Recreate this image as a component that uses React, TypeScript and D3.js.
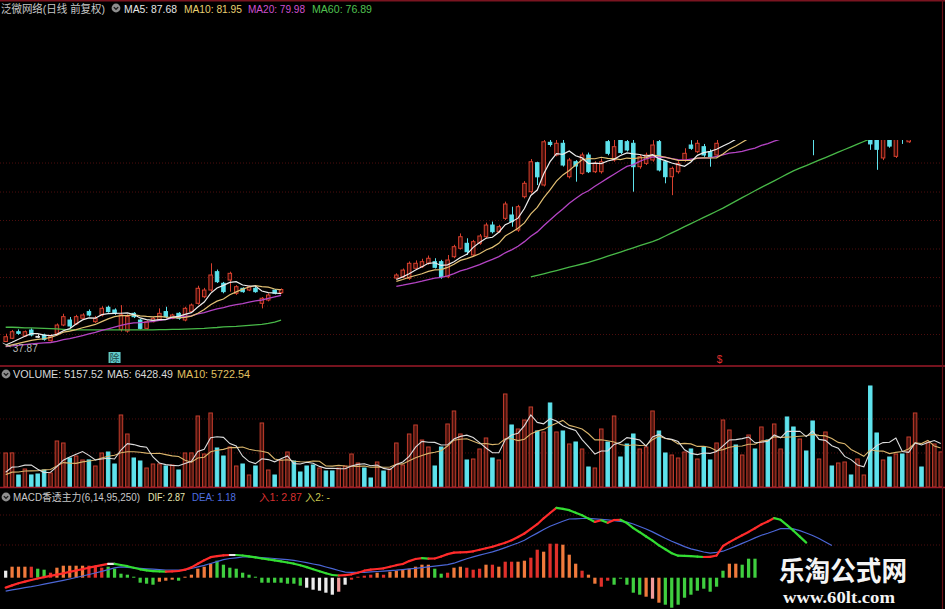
import React from 'react';
import * as d3 from 'd3';

// daily bars, 147 trading days shown on screen
const dayOpen = [
  37.95, 38.55, 39.77, 38.97, 40.08, 38.9, 39.16, 38.1, 39.47, 41.01,
  41.94, 41.2, 42.26, 43.5, 41.63, 42.87, 44.3, 43.8, 40.2, 39.9,
  43.18, 41.94, 40.39, 41.63, 41.94, 43.5, 42.26, 43.18, 41.94, 43.5,
  45.04, 46.26, 47.5, 50.9, 48.75, 49.36, 46.89, 47.82, 47.5, 47.82,
  45.04, 45.65, 47.5, 47.0, 47.2, 47.9, 47.6, 47.3, 47.0, 46.7,
  47.7, 47.4, 47.1, 47.8, 48.3, 49.0, 49.6, 49.1, 48.8, 49.6,
  49.0, 49.73, 49.9, 49.67, 51.53, 51.83, 52.46, 52.76, 52.76, 49.97,
  53.68, 55.24, 56.17, 54.0, 56.17, 57.39, 59.56, 58.32, 60.8, 61.42,
  58.63, 64.81, 65.74, 71.12, 66.98, 74.9, 72.55, 74.72, 68.52, 71.3,
  69.15, 72.55, 69.45, 69.45, 75.02, 71.62, 75.5, 75.02, 74.72, 70.38,
  71.0, 71.62, 75.02, 71.3, 68.52, 69.45, 71.62, 74.4, 73.16, 74.09,
  73.16, 72.55, 75.6, 76.6, 77.8, 76.0, 78.0, 79.8, 78.5, 80.8,
  79.4, 81.2, 82.0, 79.8, 78.4, 79.9, 78.3, 78.0, 79.0, 80.0,
  79.2, 79.8, 80.2, 79.5, 80.0, 80.2, 77.0, 72.0, 77.6, 72.3,
  77.7, 75.0, 79.0, 84.6, 83.0, 87.6, 91.0,
];
const dayHigh = [
  39.4, 40.1, 40.2, 40.0, 40.4, 39.3, 39.4, 39.3, 41.3, 43.1,
  42.5, 42.9, 43.2, 43.9, 42.7, 44.5, 44.6, 44.1, 44.7, 43.0,
  43.4, 42.1, 41.9, 42.5, 44.1, 44.4, 43.1, 43.4, 44.4, 45.0,
  48.3, 47.9, 52.46, 51.3, 49.0, 50.9, 48.4, 48.0, 48.3, 48.1,
  46.2, 46.9, 47.7, 47.8, 48.2, 48.2, 47.9, 47.6, 47.3, 47.9,
  48.0, 47.7, 48.1, 48.7, 49.5, 49.8, 49.9, 49.4, 49.8, 49.9,
  49.9, 50.6, 51.5, 52.8, 53.0, 53.3, 53.9, 53.4, 53.1, 54.0,
  55.9, 58.0, 57.1, 56.8, 57.9, 60.0, 60.2, 59.6, 63.9, 62.96,
  63.3, 67.7, 71.8, 71.3, 75.8, 77.0, 76.0, 76.0, 72.0, 71.6,
  73.0, 73.0, 71.4, 71.9, 76.5, 75.5, 77.0, 76.5, 76.0, 72.6,
  73.0, 75.3, 77.0, 71.6, 70.4, 71.4, 73.8, 75.3, 76.0, 74.6,
  73.6, 75.5, 77.3, 78.2, 78.3, 78.6, 80.2, 80.3, 81.2, 81.2,
  82.0, 82.5, 82.6, 80.4, 80.3, 80.2, 79.6, 79.5, 80.6, 80.4,
  80.3, 80.9, 80.5, 80.5, 80.8, 80.6, 78.0, 78.5, 78.2, 78.5,
  78.4, 79.0, 84.5, 85.5, 88.0, 92.3, 96.5,
];
const dayLow = [
  37.87, 38.4, 39.2, 38.8, 38.9, 38.6, 38.1, 37.95, 39.3, 40.8,
  40.5, 41.0, 42.0, 42.6, 41.4, 42.6, 43.3, 42.9, 39.8, 39.6,
  42.3, 40.2, 40.2, 41.5, 41.8, 42.3, 42.1, 42.0, 41.7, 43.3,
  44.8, 46.0, 47.2, 48.8, 46.9, 47.2, 46.6, 47.0, 47.3, 47.0,
  44.1, 45.4, 46.7, 46.8, 46.9, 47.2, 46.9, 46.6, 46.4, 46.4,
  47.0, 46.8, 46.8, 47.5, 48.0, 48.7, 48.7, 48.5, 48.5, 48.8,
  48.7, 49.5, 49.7, 49.4, 51.3, 51.6, 52.2, 51.5, 49.6, 49.7,
  53.4, 55.0, 54.0, 53.7, 55.9, 57.1, 58.0, 58.1, 60.5, 59.25,
  58.3, 64.5, 65.4, 66.98, 66.7, 74.1, 72.3, 70.4, 68.2, 67.6,
  68.9, 69.2, 69.2, 69.1, 72.5, 71.3, 72.7, 73.2, 65.74, 70.0,
  70.7, 71.3, 69.5, 67.3, 65.1, 69.1, 71.3, 73.5, 72.9, 72.2,
  70.38, 72.3, 75.5, 76.2, 75.6, 75.8, 77.6, 78.0, 78.2, 78.9,
  79.0, 80.6, 79.2, 78.0, 77.9, 78.2, 72.5, 77.6, 78.6, 79.0,
  78.9, 79.4, 79.3, 79.2, 79.7, 73.5, 69.8, 71.6, 73.9, 72.0,
  74.6, 74.8, 78.8, 82.5, 82.8, 87.0, 90.5,
];
const dayClose = [
  38.84, 39.77, 39.47, 39.77, 39.16, 38.9, 38.36, 38.97, 41.01, 42.56,
  40.83, 42.56, 42.87, 42.87, 42.26, 44.11, 43.5, 43.18, 42.9, 42.6,
  42.56, 40.39, 41.63, 42.26, 43.18, 42.56, 42.87, 42.26, 44.11, 44.72,
  47.82, 47.5, 50.29, 49.05, 47.2, 50.6, 48.12, 47.2, 48.12, 47.2,
  45.97, 46.58, 46.89, 47.6, 47.9, 47.5, 47.2, 46.9, 46.7, 47.6,
  47.3, 47.1, 47.8, 48.4, 49.2, 49.5, 49.0, 48.8, 49.5, 49.1,
  49.6, 50.29, 51.2, 52.46, 52.46, 52.76, 53.39, 51.72, 49.97, 53.07,
  55.54, 57.39, 54.61, 56.47, 57.52, 59.56, 58.32, 59.25, 63.46, 60.18,
  62.96, 67.3, 71.3, 68.5, 75.0, 74.5, 74.72, 70.69, 71.62, 70.5,
  72.55, 69.45, 71.0, 71.3, 72.86, 74.09, 73.0, 73.48, 70.38, 72.24,
  72.55, 74.4, 69.77, 68.52, 70.07, 71.0, 72.86, 73.79, 74.72, 72.55,
  72.24, 74.72, 76.8, 77.6, 75.9, 78.1, 79.6, 78.4, 80.6, 79.3,
  81.4, 81.9, 79.6, 78.5, 79.8, 78.6, 78.2, 79.1, 80.0, 79.3,
  79.9, 80.3, 79.6, 80.1, 80.4, 74.6, 73.6, 77.9, 74.2, 78.0,
  77.4, 78.5, 84.0, 83.2, 87.5, 91.5, 92.2,
];
// closes of the 19 days before the first bar on screen (moving-average warm-up)
const closeBefore = [37.6, 37.2, 36.8, 37.1, 36.6, 36.9, 37.3, 36.8, 36.4, 36.9, 37.2, 36.7, 37.0, 36.5, 36.9, 37.3, 36.6, 37.0, 36.8];

// days whose candles / averages are blanked out in the screenshot
const HIDDEN_DAYS = [44, 60];

// MA60 as printed (left part, then from day 82 onwards)
const ma60Left = [
  40.6, 40.6, 40.55, 40.5, 40.5, 40.45, 40.4, 40.35, 40.3, 40.2,
  40.1, 40.1, 40.1, 40.1, 40.1, 40.1, 40.1, 40.1, 40.1, 40.1,
  40.1, 40.1, 40.1, 40.1, 40.15, 40.15, 40.2, 40.2, 40.25, 40.3,
  40.35, 40.4, 40.5, 40.55, 40.65, 40.7, 40.75, 40.85, 40.95, 41.05,
  41.15, 41.3, 41.55, 41.9,
];
const MA60_RIGHT_FROM = 82;
const ma60Right = [
  49.92, 50.21, 50.51, 50.83, 51.12, 51.42, 51.73, 52.03, 52.33, 52.62,
  52.99, 53.38, 53.77, 54.16, 54.55, 54.94, 55.33, 55.72, 56.11, 56.5,
  56.95, 57.52, 58.1, 58.67, 59.25, 59.82, 60.4, 60.97, 61.55, 62.12,
  62.7, 63.35, 63.98, 64.63, 65.26, 65.91, 66.54, 67.15, 67.76, 68.37,
  68.99, 69.6, 70.1, 70.58, 71.08, 71.58, 72.07, 72.57, 73.07, 73.57,
  74.05, 74.55, 75.05, 75.55, 75.8, 76.0, 76.15, 76.3, 76.42, 76.52,
  76.6, 76.68, 76.75, 76.82, 76.89,
];

const volume = [
  4998, 5012, 1764, 2646, 1770, 1911, 2499, 2058, 6762, 6468,
  4263, 4557, 3969, 3980, 3087, 4998, 5145, 3381, 10584, 7791,
  4263, 3822, 2793, 3381, 3390, 3087, 3234, 2499, 4998, 5010,
  10437, 4851, 10878, 5733, 4557, 5880, 3087, 3381, 1764, 3087,
  9408, 2499, 1764, 3969, 5145, 3822, 2205, 3087, 3234, 2793,
  2352, 2360, 2793, 3087, 4851, 3528, 2793, 1323, 3675, 2352,
  2646, 6468, 3234, 7791, 9114, 6909, 5880, 3087, 5880, 9261,
  11172, 7791, 3969, 4116, 5586, 7203, 4263, 3969, 13671, 9114,
  8526, 9849, 11760, 8232, 8085, 12348, 8085, 8232, 6321, 6615,
  5586, 2940, 2793, 8526, 6615, 10437, 4410, 6321, 7791, 5586,
  5880, 11172, 8232, 4998, 4704, 4263, 5145, 5586, 4116, 5880,
  3969, 6468, 9849, 8379, 6174, 4704, 7644, 5586, 8820, 6909,
  9261, 5586, 10290, 8820, 7056, 5292, 9702, 4116, 8085, 3087,
  3528, 3675, 1764, 4116, 1764, 14847, 7938, 3969, 4410, 4851,
  4851, 7350, 10878, 2940, 6615, 6321, 5157.52,
];
const volumeBefore = [1350, 1620, 1180, 1490, 1710, 1260, 1540, 1400, 1650];

// MACD histogram and its bar colours (r red, o orange, g green, w white, p pink)
const macdHist = [
  0.7, 1.1, 1.1, 1.1, 1.1, 0.9, 0.8, 0.5, 1.0, 1.2,
  1.2, 1.2, 1.2, 1.2, 1.1, 1.0, 1.1, 0.9, 0.4, 0.3,
  0.1, -0.5, -0.6, -0.7, -0.4, -0.3, -0.2, -0.3, 0.1, 0.3,
  0.9, 1.1, 1.4, 1.7, 1.3, 1.0, 0.9, 0.5, 0.3, 0.1,
  -0.5, -0.5, -0.5, -0.5, -0.6, -0.6, -0.8, -1.0, -1.2, -1.3,
  -1.5, -1.7, -1.4, -0.7, -0.2, 0.1, 0.2, 0.3, 0.5, 0.3,
  0.6, 0.7, 0.8, 0.9, 1.1, 1.3, 1.3, 0.9, 0.4, 0.5,
  1.0, 1.1, 1.0, 0.8, 0.9, 1.3, 1.3, 1.1, 1.6, 1.6,
  1.6, 1.7, 2.0, 2.8, 2.6, 3.4, 3.4, 3.3, 2.3, 1.4,
  0.7, 0.3, -0.6, -0.9, -0.3, -0.7, -0.1, -0.7, -1.5, -1.7,
  -1.9, -2.1, -2.5, -2.7, -3.0, -2.7, -2.0, -1.7, -1.3, -1.1,
  -1.4, -0.9, 0.7, 1.4, 1.4, 1.3, 1.9, 1.9,
];
const macdHistColor = (
  'wooorggrooooorrrggggggggooogooooogggggggggggggg' +
  'wwwwwpwrrrroroooooooggroorrrororroorrorroooroorrgggggopoggggggggggoogggrorrroo'
).split('');
const difLine = [
  -0.99, -0.77, -0.56, -0.39, -0.23, -0.08, 0.05, 0.18, 0.31, 0.44,
  0.58, 0.72, 0.86, 1.0, 1.13, 1.26, 1.38, 1.38, 1.27, 1.15,
  0.99, 0.84, 0.74, 0.66, 0.63, 0.6, 0.63, 0.67, 0.8, 1.03,
  1.4, 1.75, 2.05, 2.16, 2.24, 2.27, 2.27, 2.22, 2.13, 2.03,
  1.92, 1.83, 1.73, 1.63, 1.52, 1.4, 1.24, 1.06, 0.85, 0.64,
  0.44, 0.27, 0.22, 0.25, 0.34, 0.5, 0.7, 0.8, 0.87, 0.94,
  1.1, 1.25, 1.37, 1.66, 1.87, 1.96, 1.91, 1.92, 2.12, 2.36,
  2.51, 2.54, 2.56, 2.64, 2.79, 2.94, 3.1, 3.3, 3.5, 3.75,
  4.07, 4.42, 4.88, 5.35, 5.94, 6.47, 6.99, 6.88, 6.75, 6.5,
  6.25, 5.91, 5.58, 5.75, 5.49, 5.77, 5.79, 5.46, 4.96, 4.55,
  4.12, 3.71, 3.23, 2.84, 2.45, 2.2, 2.18, 2.15, 2.11, 2.07,
  2.09, 2.22, 3.17, 3.56, 3.91, 4.25, 4.58, 4.94, 5.33, 5.63,
  5.96, 5.79, 5.26, 4.7, 4.11, 3.51,
];
const deaLine = [
  -1.34, -1.22, -1.11, -1.0, -0.9, -0.78, -0.65, -0.52, -0.4, -0.27,
  -0.13, 0.02, 0.17, 0.32, 0.47, 0.63, 0.81, 0.99, 1.08, 1.03,
  0.98, 0.93, 0.89, 0.85, 0.81, 0.77, 0.77, 0.77, 0.77, 0.92,
  1.08, 1.23, 1.42, 1.61, 1.81, 1.92, 1.99, 2.07, 2.08, 2.05,
  2.02, 1.97, 1.92, 1.86, 1.81, 1.73, 1.62, 1.5, 1.37, 1.25,
  1.07, 0.9, 0.72, 0.55, 0.54, 0.54, 0.54, 0.58, 0.62, 0.66,
  0.71, 0.75, 0.81, 0.88, 0.94, 1.01, 1.08, 1.16, 1.23, 1.31,
  1.45, 1.68, 1.9, 2.09, 2.25, 2.42, 2.58, 2.78, 3.01, 3.24,
  3.47, 3.75, 4.11, 4.46, 4.82, 5.15, 5.4, 5.64, 5.87, 5.89,
  5.92, 5.94, 5.89, 5.83, 5.78, 5.71, 5.64, 5.56, 5.37, 5.12,
  4.87, 4.58, 4.26, 3.94, 3.65, 3.38, 3.11, 2.89, 2.73, 2.57,
  2.45, 2.53, 2.65, 2.89, 3.16, 3.43, 3.7, 3.98, 4.25, 4.45,
  4.67, 4.9, 4.91, 4.88, 4.71, 4.47, 4.22, 3.92, 3.57, 3.21,
];

const priceGrid = [39.25, 44.54, 49.82, 55.11, 60.4, 65.68, 71.06];
const volumeGrid = [5000, 10000];
const macdGrid = [3.27, 6.27];

const W = 945;
const H = 609;
const RED = '#d8402e';
const RED_FILL = '#3a0c08';
const CYAN = '#5ee2ec';
const GRID = '#4e0e0e';
const BORDER = '#9c1a28';
const FONT = '"Liberation Sans", Arial, "Noto Sans CJK SC", sans-serif';
const HIST_COLORS: Record<string, string> = { r: '#e0302a', o: '#f07a3c', g: '#3fcf3f', w: '#ececec', p: '#f29a9a' };

const N = dayClose.length;
const x = d3.scaleBand<number>().domain(d3.range(N)).range([2.8, 943.6]).paddingInner(0.3).paddingOuter(0.1);
const bw = x.bandwidth();
const cx = (i: number) => (x(i) as number) + bw / 2;

const yPrice = d3.scaleLinear().domain([33.41, 97.59]).range([366, 20]);
const yVol = d3.scaleLinear().domain([0, 16020]).range([487, 378]);
const yMacd = d3.scaleLinear().domain([-3.1, 7.7]).range([608.7, 500.7]);

const isHidden = (i: number) => i >= HIDDEN_DAYS[0] && i <= HIDDEN_DAYS[1];

function trailingMean(values: number[], before: number[], n: number) {
  const all = before.concat(values);
  return values.map((_, i) => {
    const end = i + before.length + 1;
    return d3.mean(all.slice(Math.max(0, end - n), end)) as number;
  });
}

const ma5 = trailingMean(dayClose, closeBefore, 5);
const ma10 = trailingMean(dayClose, closeBefore, 10);
const ma20 = trailingMean(dayClose, closeBefore, 20);
const ma60 = dayClose.map((_, i) =>
  i < ma60Left.length ? ma60Left[i] : i >= MA60_RIGHT_FROM ? ma60Right[i - MA60_RIGHT_FROM] : null
);
const volMa5 = trailingMean(volume, volumeBefore, 5);
const volMa10 = trailingMean(volume, volumeBefore, 10);

const priceLine = d3
  .line<number | null>()
  .defined((d, i) => d != null && !isHidden(i))
  .x((_, i) => cx(i))
  .y((d) => yPrice(d as number));
const volLine = d3
  .line<number>()
  .x((_, i) => cx(i))
  .y((d) => yVol(d));
const deaPath = d3
  .line<number>()
  .x((_, i) => cx(i))
  .y((d) => yMacd(d));

function Chevron({ x: px, y: py }: { x: number; y: number }) {
  return (
    <g transform={`translate(${px},${py})`}>
      <circle r={4.4} fill="#8e8e8e" />
      <path d="M-2.2,-0.9 L0,1.3 L2.2,-0.9" fill="none" stroke="#1a1a1a" strokeWidth={1.3} />
    </g>
  );
}

function Label({ x: px, y: py, w, color, children, size = 11 }: any) {
  return (
    <text x={px} y={py} fill={color} fontSize={size} textLength={w} lengthAdjust="spacingAndGlyphs">
      {children}
    </text>
  );
}

function Candles() {
  return (
    <g clipPath="url(#priceClip)">
      {dayClose.map((c, i) => {
        if (isHidden(i)) return null;
        const o = dayOpen[i];
        const up = c > o;
        const color = c === o ? '#e4e4e4' : up ? RED : CYAN;
        const top = yPrice(Math.max(o, c));
        const bot = yPrice(Math.min(o, c));
        const xc = Math.round(cx(i)) + 0.5;
        return (
          <g key={i}>
            <line x1={xc} x2={xc} y1={yPrice(dayHigh[i])} y2={yPrice(dayLow[i])} stroke={color} />
            <rect
              x={x(i)! + 0.5}
              y={top}
              width={bw - 1}
              height={Math.max(0.8, bot - top)}
              fill={up ? RED_FILL : color}
              stroke={color}
              strokeWidth={1}
            />
          </g>
        );
      })}
      <path d={priceLine(ma60) || ''} fill="none" stroke="#48b848" strokeWidth={1.3} />
      <path d={priceLine(ma20) || ''} fill="none" stroke="#b444c4" strokeWidth={1.3} />
      <path d={priceLine(ma10) || ''} fill="none" stroke="#e2c074" strokeWidth={1.2} />
      <path d={priceLine(ma5) || ''} fill="none" stroke="#ececec" strokeWidth={1.2} />
    </g>
  );
}

function VolumeBars() {
  return (
    <g>
      {volume.map((v, i) => {
        const up = dayClose[i] > dayOpen[i];
        const top = yVol(v);
        return (
          <rect
            key={i}
            x={x(i)! + 0.5}
            y={top}
            width={bw - 1}
            height={yVol(0) - top}
            fill={up ? '#4a140e' : CYAN}
            stroke={up ? '#c23c2c' : CYAN}
            strokeWidth={1}
          />
        );
      })}
      <path d={volLine(volMa10) || ''} fill="none" stroke="#d9b56c" strokeWidth={1.1} />
      <path d={volLine(volMa5) || ''} fill="none" stroke="#dcdcdc" strokeWidth={1.1} />
    </g>
  );
}

function Macd() {
  const w = bw * 0.72;
  const zero = yMacd(0);
  return (
    <g>
      {macdHist.map((v, i) => {
        const y1 = yMacd(v);
        return (
          <rect
            key={i}
            x={cx(i) - w / 2}
            y={Math.min(zero, y1)}
            width={w}
            height={Math.max(0.8, Math.abs(y1 - zero))}
            fill={HIST_COLORS[macdHistColor[i]]}
          />
        );
      })}
      <path d={deaPath(deaLine) || ''} fill="none" stroke="#4b66d6" strokeWidth={1.2} />
      {difLine.slice(1).map((v, k) => {
        const i = k + 1;
        const d = v - difLine[i - 1];
        const col = d > 0.005 ? '#ff2b2b' : d < -0.005 ? '#33dd33' : '#e8e8e8';
        return (
          <line
            key={i}
            x1={cx(i - 1)}
            y1={yMacd(difLine[i - 1])}
            x2={cx(i)}
            y2={yMacd(v)}
            stroke={col}
            strokeWidth={2.2}
            strokeLinecap="round"
          />
        );
      })}
    </g>
  );
}

export default function App() {
  const lowX = cx(0);
  const lowY = yPrice(dayLow[0]);
  return (
    <svg
      width={W}
      height={H}
      style={{ position: 'absolute', left: 0, top: 0, display: 'block' }}
      fontFamily={FONT}
    >
      <defs>
        <clipPath id="priceClip">
          <rect x={0} y={140} width={W} height={226} />
        </clipPath>
      </defs>
      <rect width={W} height={H} fill="#000" />

      {/* grid */}
      {priceGrid.map((p) => (
        <line key={p} x1={0} x2={940} y1={yPrice(p)} y2={yPrice(p)} stroke={GRID} strokeDasharray="1 2" />
      ))}
      {volumeGrid.map((v) => (
        <line key={v} x1={0} x2={940} y1={yVol(v)} y2={yVol(v)} stroke={GRID} strokeDasharray="1 2" />
      ))}
      {macdGrid.map((v) => (
        <line key={v} x1={0} x2={940} y1={yMacd(v)} y2={yMacd(v)} stroke={GRID} strokeDasharray="1 2" />
      ))}

      <Candles />
      <VolumeBars />
      <Macd />

      {/* frame */}
      <line x1={0} x2={W} y1={0.75} y2={0.75} stroke="#7a1420" strokeWidth={1.5} />
      <line x1={0} x2={W} y1={366} y2={366} stroke={BORDER} strokeWidth={1.6} />
      <line x1={0} x2={W} y1={487.5} y2={487.5} stroke={BORDER} strokeWidth={1.6} />
      <line x1={942.5} x2={942.5} y1={0} y2={H} stroke="#6a1018" strokeWidth={1.2} />

      {/* low marker and signals */}
      <line x1={lowX - 3} y1={lowY + 1} x2={lowX + 5} y2={lowY + 5} stroke="#b0b0b0" />
      <text x={lowX + 7} y={lowY + 10} fill="#b4b4b4" fontSize={10}>
        37.87
      </text>
      <rect x={cx(17) - 6} y={352} width={12} height={11} fill="#63caca" />
      <text x={cx(17)} y={361.5} fill="#1d4a4a" fontSize={10} textAnchor="middle">
        除
      </text>
      <text x={cx(111) + 3} y={363} fill="#e03030" fontSize={10} textAnchor="middle">
        $
      </text>

      {/* headers */}
      <Label x={1} y={13} w={104} color="#c8c8c8">泛微网络(日线 前复权)</Label>
      <Chevron x={116} y={8} />
      <Label x={124} y={13} w={53} color="#e6e6e6">MA5: 87.68</Label>
      <Label x={184} y={13} w={58} color="#e8d070">MA10: 81.95</Label>
      <Label x={248} y={13} w={57} color="#d050d0">MA20: 79.98</Label>
      <Label x={312} y={13} w={60} color="#50c050">MA60: 76.89</Label>

      <Chevron x={6} y={374} />
      <Label x={13} y={378} w={90} color="#d8d8d8">VOLUME: 5157.52</Label>
      <Label x={107} y={378} w={66} color="#d8d8d8">MA5: 6428.49</Label>
      <Label x={177} y={378} w={73} color="#e0c060">MA10: 5722.54</Label>

      <Chevron x={6} y={497} />
      <Label x={13} y={501} w={127} size={10} color="#c8c8c8">MACD香透主力(6,14,95,250)</Label>
      <Label x={148} y={501} w={37} size={10} color="#e8e8b0">DIF: 2.87</Label>
      <Label x={192} y={501} w={44} size={10} color="#5070e0">DEA: 1.18</Label>
      <Label x={259} y={501} w={43} size={10} color="#d83030">入1: 2.87</Label>
      <Label x={305} y={501} w={25} size={10} color="#c8c850">入2: -</Label>

      {/* watermark */}
      <text
        x={779}
        y={581}
        fill="#f4f4f4"
        fontSize={27}
        fontWeight="bold"
        fontFamily='"Noto Sans CJK SC", sans-serif'
        textLength={128}
        lengthAdjust="spacingAndGlyphs"
      >
        乐淘公式网
      </text>
      <text
        x={783}
        y={603}
        fill="#f4f4f4"
        fontSize={16}
        fontWeight="bold"
        fontFamily='"Liberation Serif", "DejaVu Serif", serif'
        textLength={112}
        lengthAdjust="spacingAndGlyphs"
      >
        www.60lt.com
      </text>
    </svg>
  );
}
